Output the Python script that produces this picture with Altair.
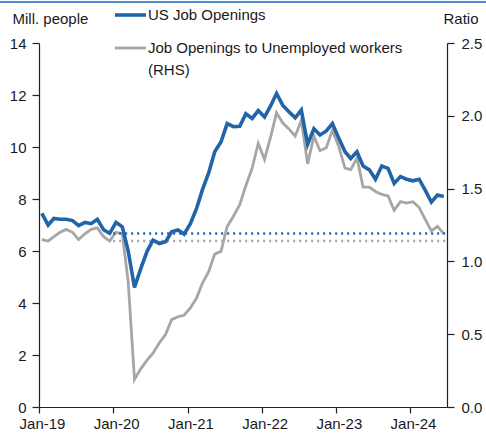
import altair as alt
import pandas as pd

# ---- data ----
JOB_OPENINGS = [7.45, 7.0, 7.25, 7.22, 7.22, 7.17, 6.98, 7.1, 7.05, 7.22, 6.82, 6.68,
                7.1, 6.93, 6.0, 4.6, 5.3, 5.97, 6.42, 6.29, 6.36, 6.74, 6.81, 6.65,
                7.05, 7.65, 8.35, 9.0, 9.82, 10.2, 10.9, 10.78, 10.8, 11.28, 11.1, 11.4,
                11.15, 11.6, 12.06, 11.6, 11.36, 11.12, 11.42, 10.1, 10.7, 10.46, 10.62, 10.9,
                10.35, 9.82, 9.56, 9.82, 9.27, 9.12, 8.76, 9.27, 9.18, 8.6, 8.86, 8.76,
                8.7, 8.76, 8.35, 7.88, 8.15, 8.1]
RATIO = [1.15, 1.14, 1.17, 1.20, 1.22, 1.20, 1.15, 1.19, 1.22, 1.23, 1.17, 1.14,
         1.20, 1.19, 0.86, 0.19, 0.26, 0.32, 0.37, 0.44, 0.50, 0.60, 0.62, 0.63,
         0.68, 0.75, 0.85, 0.93, 1.05, 1.07, 1.24, 1.31, 1.39, 1.52, 1.64, 1.81,
         1.70, 1.86, 2.02, 1.95, 1.91, 1.86, 1.97, 1.67, 1.86, 1.76, 1.78, 1.90,
         1.79, 1.64, 1.63, 1.71, 1.51, 1.51, 1.48, 1.46, 1.45, 1.35, 1.41, 1.40,
         1.41, 1.37, 1.29, 1.21, 1.24, 1.19]
SERIES = ["US Job Openings", "Job Openings to Unemployed workers"]
RHS_NOTE = "(RHS)"
AVG_OPENINGS = 6.67
AVG_RATIO = 1.14
AVG_START = "2020-01-01"
AVG_END = "2024-07-01"
YEARS = [2019, 2020, 2021, 2022, 2023, 2024]
LEFT_TICKS = [0, 2, 4, 6, 8, 10, 12, 14]
RIGHT_TICKS = [0, 0.5, 1.0, 1.5, 2.0, 2.5]

months = pd.date_range("2019-01-01", periods=len(JOB_OPENINGS), freq="MS") + pd.Timedelta(days=14)
df = pd.DataFrame({"date": months.strftime("%Y-%m-%d"),
                   "openings": JOB_OPENINGS, "ratio": RATIO})
avg_df = pd.DataFrame({"start": [AVG_START], "end": [AVG_END],
                       "openings": [AVG_OPENINGS], "ratio": [AVG_RATIO]})

BLUE = "#2264A8"
GRAY = "#A6A6A6"
TXT = "#1a1a1a"
FONT = "Liberation Sans"
FS = 15
W, H = 408, 364

x_scale = alt.Scale(type="utc",
                    domain=[alt.DateTime(year=2019, month=1, date=1, utc=True),
                            alt.DateTime(year=2024, month=7, date=1, utc=True)])
x_axis = alt.Axis(values=[alt.DateTime(year=y, month=1, date=1, utc=True) for y in YEARS],
                  labelExpr="utcFormat(datum.value, '%b-%y')", title=None, grid=False,
                  tickSize=6, labelPadding=3, labelOffset=3, labelFlush=False)

left_scale = alt.Scale(domain=[0, 14], nice=False)
right_scale = alt.Scale(domain=[0, 2.5], nice=False)
left_axis = alt.Axis(orient="left", values=LEFT_TICKS, grid=False, title="Mill. people",
                     titleAngle=0, titleAlign="left", titleBaseline="alphabetic",
                     titleX=-27, titleY=-20, tickSize=7, labelPadding=6)
right_axis = alt.Axis(orient="right", values=RIGHT_TICKS, format=".1f", grid=False,
                      title="Ratio", titleAngle=0, titleAlign="left",
                      titleBaseline="alphabetic", titleX=-4, titleY=-20,
                      tickSize=7, labelPadding=7)

base = alt.Chart(df)
avg = alt.Chart(avg_df)

gray_dot = avg.mark_rule(color=GRAY, strokeWidth=2.5, strokeDash=[2, 4]).encode(
    x=alt.X("start:T", scale=x_scale, axis=x_axis), x2="end:T",
    y=alt.Y("ratio:Q", scale=right_scale, axis=right_axis))
gray_line = base.mark_line(color=GRAY, strokeWidth=2.8).encode(
    x=alt.X("date:T", scale=x_scale, axis=x_axis),
    y=alt.Y("ratio:Q", scale=right_scale, axis=right_axis))

blue_dot = avg.mark_rule(color=BLUE, strokeWidth=2.5, strokeDash=[2, 4]).encode(
    x=alt.X("start:T", scale=x_scale, axis=x_axis), x2="end:T",
    y=alt.Y("openings:Q", scale=left_scale, axis=left_axis))
blue_line = base.mark_line(color=BLUE, strokeWidth=3.6).encode(
    x=alt.X("date:T", scale=x_scale, axis=x_axis),
    y=alt.Y("openings:Q", scale=left_scale, axis=left_axis))

right_group = alt.layer(gray_dot, gray_line)
left_group = alt.layer(blue_dot, blue_line)

# decorations: top border line and legend
one = alt.Chart(pd.DataFrame({"k": [0]}))
top_rule = one.mark_rule(color="#4F8FCF", strokeWidth=2).encode(
    x=alt.value(-39), x2=alt.value(W + 39), y=alt.value(-41))
leg_blue_sym = one.mark_rule(color=BLUE, strokeWidth=3.6).encode(
    x=alt.value(76), x2=alt.value(107), y=alt.value(-28))
leg_gray_sym = one.mark_rule(color=GRAY, strokeWidth=2.8).encode(
    x=alt.value(76), x2=alt.value(107), y=alt.value(5))
leg_blue_txt = one.mark_text(align="left", baseline="middle", font=FONT, fontSize=FS,
                             color=TXT).encode(x=alt.value(109), y=alt.value(-28),
                                               text=alt.value(SERIES[0]))
leg_gray_txt = one.mark_text(align="left", baseline="middle", font=FONT, fontSize=FS,
                             color=TXT).encode(x=alt.value(109), y=alt.value(5),
                                               text=alt.value(SERIES[1]))
leg_rhs_txt = one.mark_text(align="left", baseline="middle", font=FONT, fontSize=FS,
                            color=TXT).encode(x=alt.value(109), y=alt.value(27),
                                              text=alt.value(RHS_NOTE))

chart = alt.layer(
    right_group, left_group, top_rule,
    leg_blue_sym, leg_gray_sym, leg_blue_txt, leg_gray_txt, leg_rhs_txt
).resolve_scale(y="independent").properties(
    width=W, height=H,
    autosize=alt.AutoSizeParams(type="none"),
    padding={"left": 39, "top": 43, "right": 39, "bottom": 30},
    background="white",
).configure_view(stroke=None).configure_axis(
    labelFont=FONT, titleFont=FONT, labelFontSize=FS, titleFontSize=FS,
    labelColor=TXT, titleColor=TXT, titleFontWeight="normal",
    domainColor="#222222", tickColor="#222222", domainWidth=1.2, tickWidth=1.2,
)

chart.save("out.html", embed_options={"renderer": "svg", "actions": False})
